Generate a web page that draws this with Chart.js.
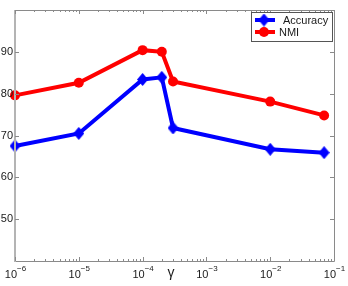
<!DOCTYPE html>
<html>
<head>
<meta charset="utf-8">
<script src="https://cdn.jsdelivr.net/npm/chart.js@4.4.1/dist/chart.umd.min.js"></script>
<style>
    html, body { margin: 0; padding: 0; background: #fff; }
    #wrap { width: 348px; height: 286px; }
</style>
</head>
<body>
<div id="wrap"><canvas id="gammaChart"></canvas></div>
<script>
const gammaValues = [1e-6, 1e-5, 1e-4, 2e-4, 3e-4, 1e-2, 7e-2];
const accuracy = [67.5, 70.5, 83.4, 83.9, 71.8, 66.7, 65.9];
const nmi = [79.6, 82.6, 90.4, 90.0, 82.9, 78.1, 74.8];
const yTicks = [50, 60, 70, 80, 90];
const xTickExps = [-6, -5, -4, -3, -2, -1];

const FONT = '"Liberation Sans", Arial, sans-serif';

function diamond(w, h, color) {
    const c = document.createElement('canvas');
    c.width = w; c.height = h;
    const g = c.getContext('2d');
    g.fillStyle = color;
    g.beginPath();
    g.moveTo(w / 2, 0); g.lineTo(w, h / 2); g.lineTo(w / 2, h); g.lineTo(0, h / 2);
    g.closePath();
    g.fill();
    return c;
}
const blueDiamond = diamond(11, 13, '#0000ff');

const axesPlugin = {
    id: 'matlabAxes',
    afterDatasetsDraw(chart) {
        const { ctx, chartArea: a, scales: { x, y } } = chart;
        ctx.save();
        // box
        ctx.strokeStyle = '#8a8a8a';
        ctx.lineWidth = 1;
        ctx.beginPath();
        ctx.moveTo(a.left, a.top + 0.5); ctx.lineTo(a.right + 0.5, a.top + 0.5);
        ctx.lineTo(a.right + 0.5, a.bottom + 0.5); ctx.lineTo(a.left, a.bottom + 0.5);
        ctx.stroke();
        ctx.strokeStyle = '#b4b4b4';
        ctx.lineWidth = 2;
        ctx.beginPath();
        ctx.moveTo(a.left, a.top); ctx.lineTo(a.left, a.bottom + 1);
        ctx.stroke();

        // ticks
        ctx.strokeStyle = '#8a8a8a';
        ctx.lineWidth = 1;
        ctx.beginPath();
        yTicks.forEach(v => {
            const py = Math.round(y.getPixelForValue(v)) + 0.5;
            ctx.moveTo(a.left, py); ctx.lineTo(a.left + 4, py);
            ctx.moveTo(a.right, py); ctx.lineTo(a.right - 4, py);
        });
        xTickExps.forEach((e, i) => {
            const major = Math.round(x.getPixelForValue(Math.pow(10, e))) + 0.5;
            ctx.moveTo(major, a.bottom); ctx.lineTo(major, a.bottom - 4);
            ctx.moveTo(major, a.top); ctx.lineTo(major, a.top + 4);
            if (i === xTickExps.length - 1) return;
            for (let m = 2; m <= 9; m++) {
                const px = Math.round(x.getPixelForValue(m * Math.pow(10, e))) + 0.5;
                ctx.moveTo(px, a.bottom); ctx.lineTo(px, a.bottom - 2);
                ctx.moveTo(px, a.top); ctx.lineTo(px, a.top + 2);
            }
        });
        ctx.stroke();

        // tick labels
        ctx.fillStyle = '#1a1a1a';
        ctx.font = '11px ' + FONT;
        ctx.textAlign = 'right';
        ctx.textBaseline = 'middle';
        yTicks.forEach(v => ctx.fillText(String(v), a.left - 2, y.getPixelForValue(v)));

        ctx.textBaseline = 'alphabetic';
        xTickExps.forEach(e => {
            const px = x.getPixelForValue(Math.pow(10, e));
            const base = '10', exp = String(e).replace('-', '\u2212');
            ctx.font = '11px ' + FONT;
            const bw = ctx.measureText(base).width;
            ctx.font = '8px ' + FONT;
            const ew = ctx.measureText(exp).width;
            const left = px - (bw + ew) / 2 + 0.5;
            ctx.textAlign = 'left';
            ctx.font = '11px ' + FONT;
            ctx.fillText(base, left, a.bottom + 17);
            ctx.font = '8px ' + FONT;
            ctx.fillText(exp, left + bw, a.bottom + 10);
        });

        ctx.font = '14px ' + FONT;
        ctx.textAlign = 'center';
        ctx.fillText('\u03b3', 171, a.bottom + 16);

        // legend
        const lx = 251, ly = 12, lw = 81, lh = 29;
        ctx.fillStyle = '#fff';
        ctx.fillRect(lx, ly, lw, lh);
        ctx.strokeStyle = '#555';
        ctx.lineWidth = 1;
        ctx.strokeRect(lx + 0.5, ly + 0.5, lw, lh);
        const rows = [
            { ds: chart.data.datasets[0], y: 20, tx: 283 },
            { ds: chart.data.datasets[1], y: 32, tx: 279 }
        ];
        rows.forEach(r => {
            ctx.strokeStyle = r.ds.borderColor;
            ctx.lineWidth = 4;
            ctx.beginPath();
            ctx.moveTo(255, r.y); ctx.lineTo(275, r.y);
            ctx.stroke();
            if (r.ds.pointStyle === 'circle') {
                ctx.fillStyle = r.ds.borderColor;
                ctx.beginPath();
                ctx.arc(264, r.y, 5, 0, Math.PI * 2);
                ctx.fill();
            } else {
                ctx.drawImage(blueDiamond, 264 - 5.5, r.y - 6.5);
            }
            ctx.fillStyle = '#1a1a1a';
            ctx.font = '11px ' + FONT;
            ctx.textAlign = 'left';
            ctx.textBaseline = 'middle';
            ctx.fillText(r.ds.label, r.tx, r.y + 1);
        });
        ctx.restore();
    }
};

new Chart(document.getElementById('gammaChart'), {
    type: 'line',
    data: {
        datasets: [
            {
                label: 'Accuracy',
                data: gammaValues.map((g, i) => ({ x: g, y: accuracy[i] })),
                borderColor: '#0000ff', backgroundColor: '#0000ff',
                borderWidth: 4, pointStyle: blueDiamond, pointRadius: 6, tension: 0, clip: false
            },
            {
                label: 'NMI',
                data: gammaValues.map((g, i) => ({ x: g, y: nmi[i] })),
                borderColor: '#ff0000', backgroundColor: '#ff0000',
                borderWidth: 4, pointStyle: 'circle', pointRadius: 5, pointBorderWidth: 0, tension: 0, clip: false
            }
        ]
    },
    options: {
        responsive: true, maintainAspectRatio: false, animation: false,
        layout: { padding: { left: 15, top: 8, right: 14, bottom: 25 } },
        plugins: { legend: { display: false }, tooltip: { enabled: false } },
        scales: {
            x: { type: 'logarithmic', min: 1e-6, max: 1e-1, display: false },
            y: { min: 40, max: 100, display: false }
        }
    },
    plugins: [axesPlugin]
});
</script>
</body>
</html>
